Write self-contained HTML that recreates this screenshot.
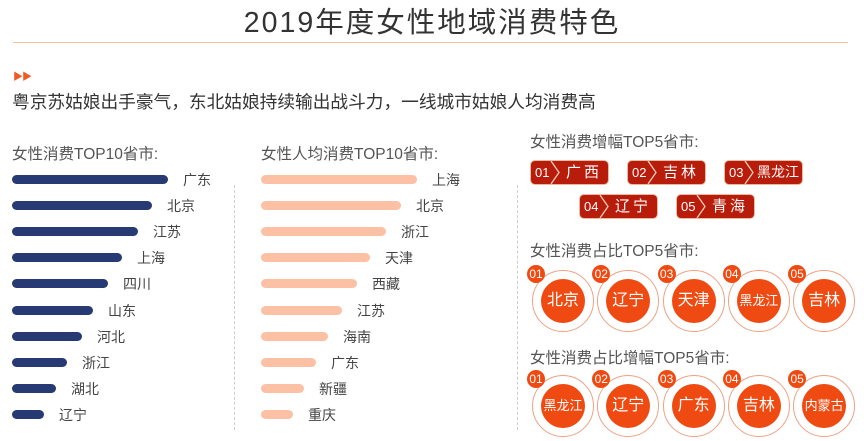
<!DOCTYPE html><html><head><meta charset="utf-8"><style>
body{margin:0;width:864px;height:441px;background:#fff;position:relative;overflow:hidden;font-family:"Liberation Sans","Noto Sans CJK SC",sans-serif;}
.a{position:absolute;white-space:nowrap}
.b{position:absolute;height:9px;border-radius:5px}
.l{position:absolute;font-size:14px;color:#444;line-height:16px}
.h{position:absolute;font-size:15.5px;color:#555;white-space:nowrap}
.tag{position:absolute;width:77px;height:23px;background:#b81c0a;border-radius:4px;color:#fff;font-size:15px;line-height:23px;box-shadow:0 0 0 1px #e9b9a0}
.tag span{position:absolute;left:4px;font-size:13px}
.tag i{position:absolute;left:19px;top:0;width:12px;height:23px}
.tag b{position:absolute;left:31px;right:2px;text-align:center;font-weight:normal;letter-spacing:3px;white-space:nowrap}
.c{position:absolute;width:62px;height:62px;border-radius:50%;border:1.5px solid #f0a184;box-sizing:border-box}
.c div{position:absolute;left:8px;top:8px;width:44px;height:44px;border-radius:50%;background:#ee4a12;color:#fff;font-size:16px;line-height:44px;text-align:center}
.c em{position:absolute;left:-6px;top:-6px;width:18px;height:18px;border-radius:50%;background:#ee4a12;color:#fff;font-style:normal;font-size:12px;line-height:18px;text-align:center}
</style></head><body>
<div class="a" style="left:0;width:864px;top:0px;text-align:center;font-size:28.5px;color:#333;letter-spacing:2px">2019年度女性地域消费特色</div>
<div class="a" style="left:13px;width:835px;top:42px;height:1px;background:#e8c3a5"></div>
<div class="a" style="left:13px;top:68px;color:#f05a24;font-size:10px;letter-spacing:-1px">▶▶</div>
<div class="a" style="left:12px;top:88px;font-size:17.7px;color:#333">粤京苏姑娘出手豪气，东北姑娘持续输出战斗力，一线城市姑娘人均消费高</div>
<div class="h" style="left:12px;top:142px">女性消费TOP10省市:</div>
<div class="h" style="left:261px;top:142px">女性人均消费TOP10省市:</div>
<div class="a" style="left:234px;top:185px;height:245px;border-left:1px dashed #ccc"></div>
<div class="a" style="left:517px;top:185px;height:245px;border-left:1px dashed #ccc"></div>
<div id="bars"></div>
<div class="h" style="left:530px;top:130px">女性消费增幅TOP5省市:</div>
<div class="h" style="left:530px;top:239px">女性消费占比TOP5省市:</div>
<div class="h" style="left:530px;top:346px">女性消费占比增幅TOP5省市:</div>
<div id="r"></div>
<script>
var L=[["广东",168],["北京",152],["江苏",138],["上海",122],["四川",108],["山东",93],["河北",82],["浙江",67],["湖北",56],["辽宁",44]];
var P=[["上海",417],["北京",401],["浙江",386],["天津",370],["西藏",357],["江苏",342],["海南",328],["广东",316],["新疆",304],["重庆",293]];
var h="";
for(var i=0;i<10;i++){var y=175+i*26.1;
h+='<div class="b" style="left:12px;top:'+y+'px;width:'+(L[i][1]-12)+'px;background:#273a73"></div><div class="l" style="left:'+(L[i][1]+15)+'px;top:'+(y-3)+'px">'+L[i][0]+'</div>';
h+='<div class="b" style="left:261px;top:'+y+'px;width:'+(P[i][1]-261)+'px;background:#fcc0a4"></div><div class="l" style="left:'+(P[i][1]+15)+'px;top:'+(y-3)+'px">'+P[i][0]+'</div>';}
document.getElementById("bars").innerHTML=h;
var T=[[531,161,"广西"],[628,161,"吉林"],[725,161,"黑龙江"],[580,195,"辽宁"],[677,195,"青海"]];h="";
for(i=0;i<5;i++){var t=T[i][2];h+='<div class="tag" style="left:'+T[i][0]+'px;top:'+T[i][1]+'px"><span>0'+(i+1)+'</span><i><svg width="12" height="23"><polyline points="1,0 9,11.5 1,23" fill="none" stroke="#f3cdb8" stroke-width="1.3"/></svg></i><b style="'+(t.length>2?'letter-spacing:0;font-size:14px':'')+'">'+t+'</b></div>';}
var R1=["北京","辽宁","天津","黑龙江","吉林"],R2=["黑龙江","辽宁","广东","吉林","内蒙古"];
for(i=0;i<5;i++){var x=532+i*65.3;
[[R1[i],270],[R2[i],375]].forEach(function(q){h+='<div class="c" style="left:'+x+'px;top:'+q[1]+'px"><div style="'+(q[0].length>2?'font-size:13px':'')+'">'+q[0]+'</div><em>0'+(i+1)+'</em></div>';});}
document.getElementById("r").innerHTML=h;
</script>
</body></html>
